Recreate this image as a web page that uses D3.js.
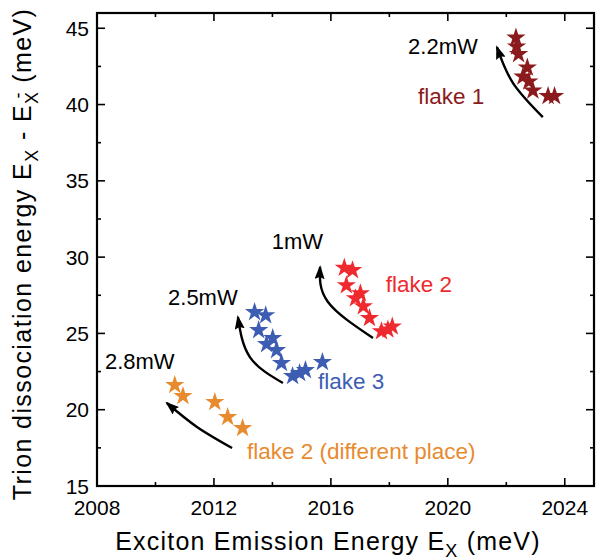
<!DOCTYPE html>
<html><head><meta charset="utf-8">
<script src="https://cdn.jsdelivr.net/npm/d3@7"></script>
<style>body{margin:0;background:#fff}svg{display:block}text{font-family:"Liberation Sans",Arial,sans-serif}</style>
</head><body>
<svg id="c" width="604" height="560"></svg>
<script>
// ---- data ----
const flake1X = [2022.33, 2022.35, 2022.42, 2022.72, 2022.57, 2022.77, 2022.91, 2023.43, 2023.65];
const flake1Y = [44.38, 43.80, 43.30, 42.42, 41.83, 41.50, 40.92, 40.55, 40.55];
const flake2X = [2016.46, 2016.74, 2016.53, 2017.01, 2016.84, 2017.11, 2017.32, 2017.73, 2017.95, 2018.10];
const flake2Y = [29.30, 29.14, 28.15, 27.63, 27.30, 26.78, 26.00, 25.14, 25.25, 25.45];
const flake3X = [2013.39, 2013.77, 2013.53, 2014.01, 2013.80, 2014.14, 2014.31, 2014.69, 2014.93, 2015.13, 2015.71];
const flake3Y = [26.39, 26.19, 25.21, 24.69, 24.29, 23.90, 23.05, 22.20, 22.40, 22.59, 23.12];
const flake2bX = [2010.66, 2010.94, 2012.03, 2012.47, 2012.98];
const flake2bY = [21.61, 20.89, 20.50, 19.52, 18.80];
const seriesNames = ["flake 1", "flake 2", "flake 3", "flake 2 (different place)"];
const seriesColors = ["#8b1a1c", "#ee2a2e", "#3d5db3", "#e88a2e"];
const powerLabels = ["2.2mW", "1mW", "2.5mW", "2.8mW"];
const xTicks = [2008, 2012, 2016, 2020, 2024];
const yTicks = [15, 20, 25, 30, 35, 40, 45];

// annotations in data units
const seriesLabelPos = [[2018.98, 40.03], [2017.88, 27.71], [2015.56, 21.36], [2013.13, 16.77]];
const powerLabelPos = [[2018.64, 43.31], [2013.98, 30.53], [2010.43, 26.86], [2008.27, 22.67]];
const arrows = [
  [[2023.25, 39.18], [2022.23, 41.41], [2021.68, 43.77]],
  [[2017.44, 24.70], [2015.90, 27.06], [2015.63, 29.35]],
  [[2014.36, 21.75], [2013.23, 23.45], [2012.82, 26.07]],
  [[2012.62, 17.49], [2011.42, 18.87], [2010.39, 20.44]]
];

const L = 97, R = 594, T = 13, B = 486;
const x = d3.scaleLinear().domain([2008, 2025]).range([L, R]);
const y = d3.scaleLinear().domain([15, 46]).range([B, T]);
const svg = d3.select("#c");

svg.append("defs").append("marker").attr("id", "ah")
  .attr("viewBox", "0 0 14 10").attr("refX", 12).attr("refY", 5)
  .attr("markerWidth", 14).attr("markerHeight", 10).attr("orient", "auto")
  .attr("markerUnits", "userSpaceOnUse")
  .append("path").attr("d", "M0,0 L14,5 L0,10 L2,5 Z").attr("fill", "#000");

// ticks
const g = svg.append("g").attr("stroke", "#000").attr("stroke-width", 1.6);
const xMajor = d3.range(2008, 2025.01, 4), xMinor = d3.range(2010, 2025, 4);
const yMajor = d3.range(15, 46.01, 5), yMinor = d3.range(17.5, 46, 5);
function xt(vals, len) {
  vals.forEach(v => {
    g.append("line").attr("x1", x(v)).attr("x2", x(v)).attr("y1", B).attr("y2", B - len);
    g.append("line").attr("x1", x(v)).attr("x2", x(v)).attr("y1", T).attr("y2", T + len);
  });
}
function yt(vals, len) {
  vals.forEach(v => {
    g.append("line").attr("y1", y(v)).attr("y2", y(v)).attr("x1", L).attr("x2", L + len);
    g.append("line").attr("y1", y(v)).attr("y2", y(v)).attr("x1", R).attr("x2", R - len);
  });
}
xt(xMajor, 8); xt(xMinor, 4); yt(yMajor, 8); yt(yMinor, 4);
svg.append("rect").attr("x", L).attr("y", T).attr("width", R - L).attr("height", B - T)
  .attr("fill", "none").attr("stroke", "#000").attr("stroke-width", 2.2);

// tick labels
svg.selectAll(".xl").data(xTicks).enter().append("text")
  .attr("x", d => x(d)).attr("y", B + 29).attr("text-anchor", "middle")
  .attr("font-size", 21).text(d => d);
svg.selectAll(".yl").data(yTicks).enter().append("text")
  .attr("x", L - 8).attr("y", d => y(d) + 7.5).attr("text-anchor", "end")
  .attr("font-size", 21).text(d => d);

// axis titles
const xt1 = svg.append("text").attr("x", 328).attr("y", 550).attr("text-anchor", "middle")
  .attr("font-size", 25).attr("letter-spacing", 1.2);
xt1.append("tspan").text("Exciton Emission Energy E");
xt1.append("tspan").attr("font-size", 18).attr("dy", 7).text("X");
xt1.append("tspan").attr("dy", -7).text(" (meV)");
const yt1 = svg.append("text").attr("transform", "translate(31,254) rotate(-90)")
  .attr("text-anchor", "middle").attr("font-size", 25).attr("letter-spacing", 1.4);
yt1.append("tspan").text("Trion dissociation energy E");
yt1.append("tspan").attr("font-size", 18).attr("dy", 7).text("X");
yt1.append("tspan").attr("dy", -7).text(" - E");
yt1.append("tspan").attr("font-size", 18).attr("dy", 7).text("X");
yt1.append("tspan").attr("font-size", 18).attr("dy", -14).attr("dx", -8).text("-");
yt1.append("tspan").attr("dy", 7).text(" (meV)");

// arrows
const line = d3.line().x(d => x(d[0])).y(d => y(d[1])).curve(d3.curveNatural);
arrows.forEach(a => {
  svg.append("path").attr("d", line(a)).attr("fill", "none").attr("stroke", "#000")
    .attr("stroke-width", 2.4).attr("marker-end", "url(#ah)");
});

// stars
const star = d3.symbol().type(d3.symbolStar).size(115);
const series = [[flake1X, flake1Y], [flake2X, flake2Y], [flake3X, flake3Y], [flake2bX, flake2bY]];
series.forEach((s, i) => {
  const pts = s[0].map((v, j) => [v, s[1][j]]);
  svg.append("g").selectAll("path").data(pts).enter().append("path")
    .attr("d", star).attr("transform", d => `translate(${x(d[0])},${y(d[1])})`)
    .attr("fill", seriesColors[i]);
});

// labels
seriesNames.forEach((n, i) => {
  svg.append("text").attr("x", x(seriesLabelPos[i][0])).attr("y", y(seriesLabelPos[i][1]))
    .attr("font-size", 22.5).attr("fill", seriesColors[i]).text(n);
});
powerLabels.forEach((n, i) => {
  svg.append("text").attr("x", x(powerLabelPos[i][0])).attr("y", y(powerLabelPos[i][1]))
    .attr("font-size", 22).attr("fill", "#000").text(n);
});
</script>
</body></html>
